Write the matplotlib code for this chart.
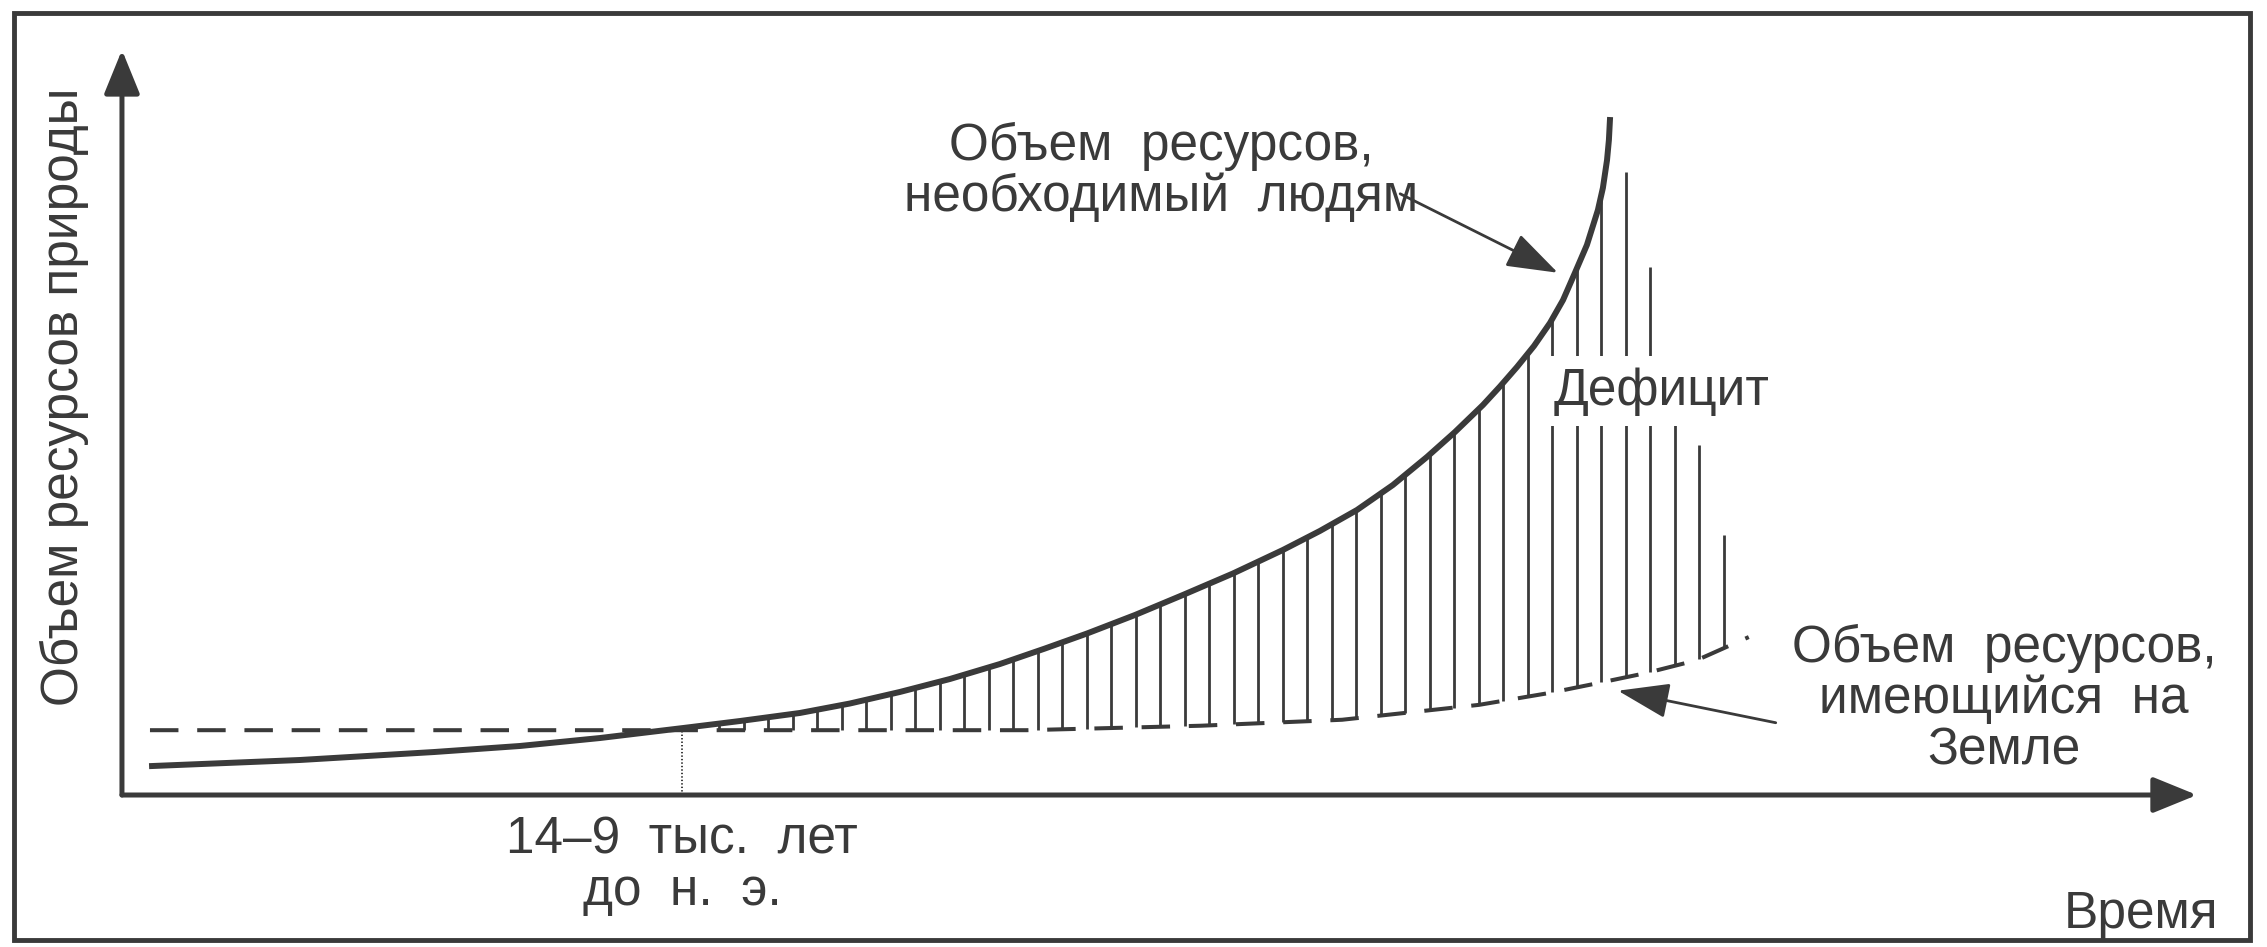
import matplotlib
matplotlib.use('Agg')
import matplotlib.pyplot as plt
from matplotlib.patches import Rectangle
import numpy as np

plt.rcParams['font.family'] = ['Liberation Sans', 'DejaVu Sans']
plt.rcParams['lines.scale_dashes'] = False

# resources needed by people (time, volume)
need_t = [1.45, 8.58, 15.04, 19.18, 23.04, 27.04, 29.78, 32.67, 35.08, 37.49,
          39.90, 42.31, 44.48, 46.51, 48.82, 51.13, 53.54, 55.95, 57.73, 59.52,
          61.25, 62.89, 64.24, 65.59, 66.41, 67.23, 68.05, 68.82, 69.45, 70.02,
          70.60, 71.13, 71.37, 71.57, 71.66, 71.71]
need_v = [3.89, 4.70, 5.77, 6.58, 7.65, 8.99, 9.93, 11.01, 12.28, 13.83,
          15.57, 17.58, 19.66, 21.68, 24.16, 26.85, 29.73, 32.89, 35.44, 38.26,
          41.61, 45.37, 48.72, 52.35, 54.83, 57.45, 60.27, 63.36, 66.44, 70.07,
          73.83, 78.52, 81.48, 85.23, 87.92, 90.60]

# resources available on Earth
avail_t = [1.35, 27.0, 43.6, 52.0, 58.8, 65.4, 68.8, 71.1, 73.5, 75.9, 78.4]
avail_v = [8.7, 8.7, 8.7, 9.3, 10.1, 12.1, 13.7, 15.0, 16.4, 18.1, 21.2]

# deficit hatching: first and last stroke, number of strokes
hatch_from, hatch_to, hatch_n = 27.6, 77.2, 43
# tops of the strokes right of where the curve ends
tail_tops = [83.6, 70.9, 53.0, 47.0, 34.9]

cross_t = 27.0  # 14-9 тыс. лет до н. э.

ink = '#3a3a3a'
fs = 37

fig = plt.figure(figsize=(22.67, 9.47), dpi=100)
fig.add_artist(Rectangle((0.0062, 0.0074), 0.9863, 0.9789, transform=fig.transFigure,
                         fill=False, lw=3.5, ec=ink))

ax = fig.add_axes([0.0538, 0.1605, 0.9153, 0.7867])
ax.set_xlim(0, 100)
ax.set_ylim(0, 100)
ax.axis('off')

# axes with arrow heads
axis_arrow = dict(arrowstyle='-|>,head_length=1.35,head_width=0.55', mutation_scale=20,
                  lw=3.6, color=ink, shrinkA=0, shrinkB=0)
ax.annotate('', xy=(0, 100), xytext=(0, 0), arrowprops=axis_arrow, annotation_clip=False)
ax.annotate('', xy=(100, 0), xytext=(0, 0), arrowprops=axis_arrow, annotation_clip=False)

# hatching between the two curves
hx = np.linspace(hatch_from, hatch_to, hatch_n)
tops = np.interp(hx, need_t, need_v)
tops[-len(tail_tops):] = tail_tops
bottoms = np.interp(hx, avail_t, avail_v)
ax.vlines(hx, bottoms, tops, colors=ink, lw=2.0, zorder=2, clip_on=False)

# available resources (dashed)
ax.plot(avail_t, avail_v, color=ink, lw=2.9, dashes=(20.5, 13.5), zorder=3, clip_on=False)
# needed resources
ax.plot(need_t, need_v, color=ink, lw=4.3, solid_joinstyle='round', zorder=4, clip_on=False)

# dotted drop line to the time axis
ax.plot([cross_t, cross_t], [0, np.interp(cross_t, need_t, need_v)], color=ink,
        lw=1.4, ls=(0, (1, 1.5)), zorder=2)

# labels
ax.text(-2.75, 53.5, 'Объем ресурсов природы', rotation=90, ha='center', va='center',
        fontsize=fs, color=ink)
ax.text(50.1, 83.6, 'Объем  ресурсов,\nнеобходимый  людям', ha='center', va='center',
        multialignment='center', linespacing=1.05, fontsize=fs, color=ink)
ax.text(74.2, 54.2, 'Дефицит', ha='center', va='center', fontsize=fs, color=ink, zorder=6,
        bbox=dict(boxstyle='square,pad=0.2', fc='white', ec='none'))
ax.text(90.7, 12.8, 'Объем  ресурсов,\nимеющийся  на\nЗемле', ha='center', va='center',
        multialignment='center', linespacing=1.05, fontsize=fs, color=ink)
ax.text(cross_t, -9.5, '14–9  тыс.  лет\nдо  н.  э.', ha='center', va='center',
        multialignment='center', linespacing=1.05, fontsize=fs, color=ink)
ax.text(97.3, -16.0, 'Время', ha='center', va='center', fontsize=fs, color=ink)

label_arrow = dict(arrowstyle='-|>,head_length=1.6,head_width=0.55', mutation_scale=20,
                   lw=2.0, color=ink, shrinkA=0, shrinkB=0)
ax.annotate('', xy=(69.2, 70.1), xytext=(61.6, 80.7), arrowprops=label_arrow)
ax.annotate('', xy=(72.1, 14.0), xytext=(79.7, 9.7), arrowprops=label_arrow)

fig.savefig('out.png', dpi=100, facecolor='white')
